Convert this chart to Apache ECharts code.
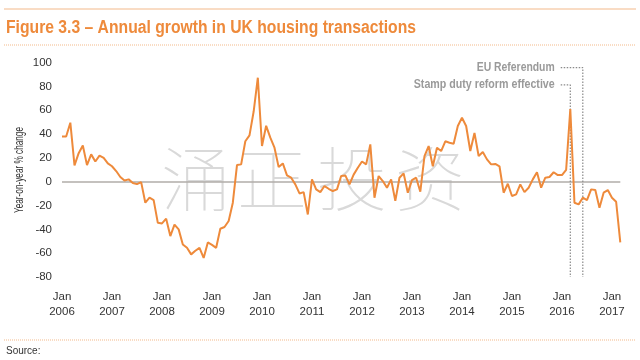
<!DOCTYPE html>
<html>
<head>
<meta charset="utf-8">
<script src="https://cdn.jsdelivr.net/npm/echarts@6/dist/echarts.min.js"></script>
<style>html,body{margin:0;padding:0;background:#fff}#c{width:640px;height:360px}</style>
</head>
<body>
<div id="c"></div>
<script>
// Monthly annual growth (%) in UK housing transactions, Jan 2006 .. Mar 2017
var startYear = 2006;
var growth = [
  38, 38, 49.6, 13.7, 24, 30.5, 14, 23, 17, 22, 20, 15.4,
  13, 9, 4, 1, 2, -1, -2, -0.3, -17.6, -13.4, -15.4, -34.5,
  -35, -31, -45.6, -36, -40, -52.7, -55.5, -61, -58, -55.5, -64, -51,
  -53, -55.5, -39.5, -38, -33, -17.6, 14, 14.6, 34, 39, 59, 87.4,
  30, 47, 37, 28.6, 12.3, 15.4, 5.3, 3.4, -2.2, -9.8, -8.7, -27.5,
  2, -6.4, -8.7, -3.6, -5.9, -7.8, -6.4, 4.8, 5.3, -2.2, 6, 11.8,
  17, 14.6, 31.4, -13.4, 4.8, 0.6, -5, 2, -16, 3.4, 7, -9.2,
  1.4, 3.4, -8.4, 21.6, 30, 13, 28.6, 25.8, 34, 32.8, 32, 46.8,
  53.8, 46.8, 25.8, 41, 21.6, 25, 18.8, 14.6, 15, 13, -9.2, -1.7,
  -12, -10.6, -2.2, -8.7, -5, 2, 8, -5, 3.4, 4, 8, 5.6,
  5.6, 10, 61, -17.6, -19, -13.4, -15.4, -6.4, -7, -21.8, -9.2, -7,
  -13.4, -16.8, -51
];
var tickLabels = ['Jan\n2006','Jan\n2007','Jan\n2008','Jan\n2009','Jan\n2010','Jan\n2011',
                  'Jan\n2012','Jan\n2013','Jan\n2014','Jan\n2015','Jan\n2016','Jan\n2017'];
// Annotations: label, month index of the vertical line, label level (%), start month of the leader
var eventNames = ['EU Referendum', 'Stamp duty reform effective'];
var eventMonths = [125, 122];
var eventLevels = [95.8, 81.3];
var eventLeaderStart = [119.7, 119.7];

var ORANGE = '#EE8A3B';
var SANS = '"Liberation Sans", Arial, sans-serif';

// horizontal scale needed so a text fits a condensed width
var mctx = document.createElement('canvas').getContext('2d');
function squeeze(text, font, width) {
  mctx.font = font;
  return width / mctx.measureText(text).width;
}

var lineData = growth.map(function (v, i) { return [i, v]; });

var eventSeries = eventNames.map(function (name, k) {
  return {
    type: 'line',
    silent: true,
    symbol: 'none',
    z: 3,
    lineStyle: { color: '#8a8a8a', width: 1.2, type: [1.5, 1.5] },
    data: [
      [eventLeaderStart[k], eventLevels[k]],
      [eventMonths[k], eventLevels[k]],
      [eventMonths[k], -80]
    ]
  };
});

var chart = echarts.init(document.getElementById('c'), null, { renderer: 'canvas' });
chart.setOption({
  animation: false,
  backgroundColor: '#fff',
  grid: { left: 62, right: 19.7, top: 62.7, bottom: 83 },
  xAxis: {
    type: 'value', min: 0, max: 134, interval: 12,
    axisLine: { show: false }, axisTick: { show: false }, splitLine: { show: false },
    axisLabel: {
      showMaxLabel: false,
      margin: 12, color: '#333', fontSize: 11.5, lineHeight: 15, fontFamily: SANS,
      formatter: function (v) { return (v % 12 === 0) ? tickLabels[v / 12] : ''; }
    }
  },
  yAxis: {
    type: 'value', min: -80, max: 100, interval: 20,
    axisLine: { show: false }, axisTick: { show: false }, splitLine: { show: false },
    axisLabel: { margin: 10, color: '#333', fontSize: 11.5, fontFamily: SANS }
  },
  series: [
    {
      type: 'line',
      name: 'Annual growth',
      symbol: 'none',
      z: 4,
      lineStyle: { color: ORANGE, width: 2 },
      data: lineData,
      markLine: {
        silent: true, symbol: 'none', z: 2,
        label: { show: false },
        lineStyle: { color: '#b0aca8', width: 1.5, type: 'solid' },
        data: [{ yAxis: 0 }]
      }
    }
  ].concat(eventSeries)
});

var titleText = 'Figure 3.3 \u2013 Annual growth in UK housing transactions';
var titleFont = 'bold 18px "Liberation Sans"';
var yNameText = 'Year-on-year % change';
var yNameFont = '12px "Liberation Sans"';

var graphics = [
  { type: 'line', shape: { x1: 4, y1: 9, x2: 636, y2: 9 }, style: { stroke: '#F3B98A', lineWidth: 1 } },
  { type: 'text', x: 6, y: 28, scaleX: squeeze(titleText, titleFont, 410),
    style: { text: titleText, fill: ORANGE, font: titleFont, verticalAlign: 'middle' } },
  { type: 'line', shape: { x1: 4, y1: 45, x2: 636, y2: 45 }, style: { stroke: '#F3B98A', lineWidth: 1, lineDash: [1, 1] } },
  { type: 'line', shape: { x1: 4, y1: 340, x2: 636, y2: 340 }, style: { stroke: '#F3B98A', lineWidth: 1, lineDash: [1, 1] } },
  { type: 'text', x: 6, y: 351, style: { text: 'Source:', fill: '#333', font: '10px "Liberation Sans"', verticalAlign: 'middle' } },
  { type: 'text', x: 20, y: 170, rotation: Math.PI / 2, scaleX: squeeze(yNameText, yNameFont, 86),
    style: { text: yNameText, fill: '#333', font: yNameFont, align: 'center', verticalAlign: 'middle' } }
];
var wm = ['涌', '正', '投', '资'];
var wmX = [196, 272, 352, 430];
wm.forEach(function (ch, i) {
  graphics.push({ type: 'text', z: -1, x: wmX[i], y: 179,
    style: { text: ch, fill: '#d9d9d9', fontSize: 70, fontWeight: 'lighter',
             fontFamily: '"Noto Sans CJK SC"', align: 'center', verticalAlign: 'middle' } });
});
var evFont = 'bold 12.5px "Liberation Sans"';
var evWidths = [78, 141];
eventNames.forEach(function (name, k) {
  var p = chart.convertToPixel({ gridIndex: 0 }, [eventLeaderStart[k], eventLevels[k]]);
  graphics.push({ type: 'text', x: p[0] - 6, y: p[1], scaleX: squeeze(name, evFont, evWidths[k]),
    style: { text: name, fill: '#9a9a9a', font: evFont, align: 'right', verticalAlign: 'middle' } });
});
chart.setOption({ graphic: graphics });
</script>
</body>
</html>
